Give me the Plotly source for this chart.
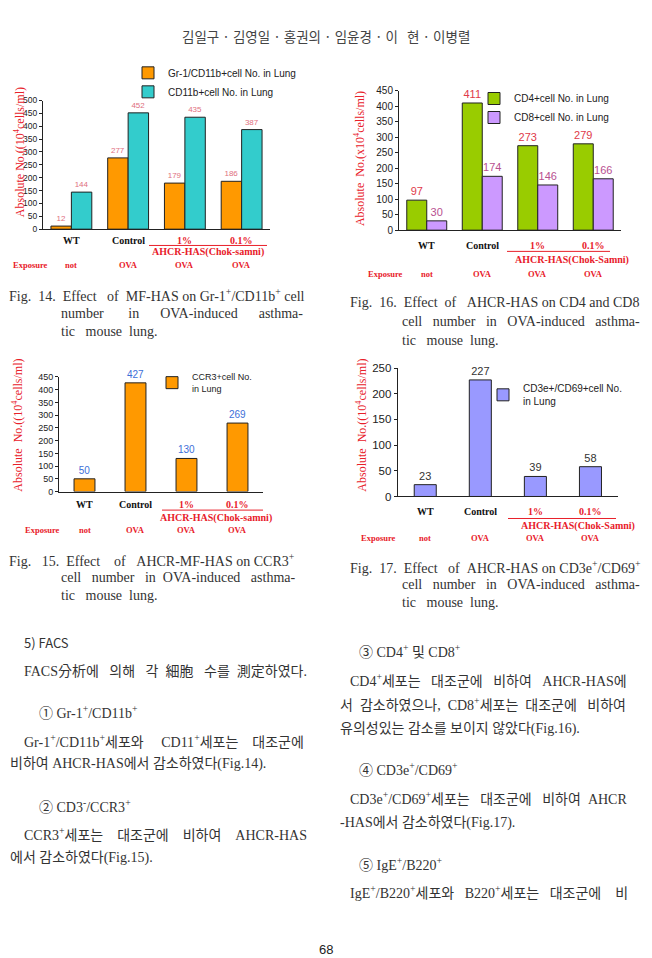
import plotly.graph_objects as go

W, H = 652, 958
def px(x): return x / W
def py(y): return 1 - y / H

# ---------------- data ----------------
categories = ["WT", "Control", "1%", "0.1%"]
exposure = ["not", "OVA", "OVA", "OVA"]

# Fig. 14
gr1_cd11b = [12, 277, 179, 186]
cd11b = [144, 452, 435, 387]
# Fig. 16
cd4 = [97, 411, 273, 279]
cd8 = [30, 174, 146, 166]
# Fig. 15
ccr3 = [50, 427, 130, 269]
# Fig. 17
cd3e_cd69 = [23, 227, 39, 58]

SERIF = "Liberation Serif, DejaVu Serif, serif"
SANS = "Liberation Sans, Arial, sans-serif"
KR = "Liberation Serif, Noto Sans CJK KR, serif"
RED = "#e8202a"
NB = "\u00a0"
def sp(n): return NB * n

fig = go.Figure()
line_style = dict(color="#222", width=1)

# Fig 14
fig.add_trace(go.Bar(x=categories, y=gr1_cd11b, name="Gr-1/CD11b+cell No. in Lung",
                     marker=dict(color="#ff9900", line=line_style), xaxis="x", yaxis="y",
                     text=gr1_cd11b, textposition="outside", cliponaxis=False, constraintext="none",
                     textfont=dict(size=8, color="#e07080", family=SANS), legend="legend"))
fig.add_trace(go.Bar(x=categories, y=cd11b, name="CD11b+cell No. in Lung",
                     marker=dict(color="#33cccc", line=line_style), xaxis="x", yaxis="y",
                     text=cd11b, textposition="outside", cliponaxis=False, constraintext="none",
                     textfont=dict(size=8, color="#e07080", family=SANS), legend="legend"))
# Fig 16
fig.add_trace(go.Bar(x=categories, y=cd4, name="CD4+cell No. in Lung",
                     marker=dict(color="#99cc00", line=line_style), xaxis="x2", yaxis="y2",
                     text=cd4, textposition="outside", cliponaxis=False, constraintext="none",
                     textfont=dict(size=11, color="#e03a48", family=SANS), legend="legend2"))
fig.add_trace(go.Bar(x=categories, y=cd8, name="CD8+cell No. in Lung",
                     marker=dict(color="#cc99ff", line=line_style), xaxis="x2", yaxis="y2",
                     text=cd8, textposition="outside", cliponaxis=False, constraintext="none",
                     textfont=dict(size=11, color="#b85090", family=SANS), legend="legend2"))
# Fig 15
fig.add_trace(go.Bar(x=categories, y=ccr3, name="CCR3+cell No.<br>in Lung",
                     marker=dict(color="#ff9900", line=line_style), xaxis="x3", yaxis="y3",
                     width=0.41, offset=-0.205,
                     text=ccr3, textposition="outside", cliponaxis=False, constraintext="none",
                     textfont=dict(size=10, color="#3d6fd8", family=SANS), legend="legend3"))
# Fig 17
fig.add_trace(go.Bar(x=categories, y=cd3e_cd69, name="CD3e+/CD69+cell No.<br>in Lung",
                     marker=dict(color="#9999ff", line=line_style), xaxis="x4", yaxis="y4",
                     width=0.4, offset=-0.2,
                     text=cd3e_cd69, textposition="outside", cliponaxis=False, constraintext="none",
                     textfont=dict(size=11, color="#333", family=SANS), legend="legend4"))

def xax(d0, d1, anchor):
    return dict(domain=[px(d0), px(d1)], anchor=anchor, type="category",
                showticklabels=False, showline=True, linecolor="#222", linewidth=1,
                ticks="", showgrid=False, zeroline=False)

def yax(top, bottom, anchor, rng, fs):
    return dict(domain=[py(bottom), py(top)], anchor=anchor, range=rng, dtick=50,
                showline=True, linecolor="#222", linewidth=1, ticks="outside", ticklen=3,
                tickcolor="#222", showgrid=False, zeroline=False,
                tickfont=dict(size=fs, color="#222", family=SANS))

layout = dict(
    width=W, height=H, margin=dict(l=0, r=0, t=0, b=0),
    paper_bgcolor="white", plot_bgcolor="white",
    barmode="group", bargap=0.28, bargroupgap=0,
    xaxis=xax(43, 270, "y"), yaxis=yax(95.7, 226, "x", [0, 500], 8.5),
    xaxis2=xax(399, 621, "y2"), yaxis2=yax(86, 227, "x2", [0, 450], 10),
    xaxis3=xax(59, 263, "y3"), yaxis3=yax(375.7, 491.7, "x3", [0, 450], 9),
    xaxis4=xax(397.7, 618, "y4"), yaxis4=yax(366.7, 496.7, "x4", [0, 250], 11.5),
)

def leg(x, y, fs):
    return dict(x=px(x), y=py(y), xanchor="left", yanchor="top", bgcolor="rgba(0,0,0,0)",
                font=dict(size=fs, family=SANS, color="#222"), itemwidth=30,
                tracegroupgap=0, traceorder="normal")

layout["legend"] = leg(128, 53, 10)
layout["legend2"] = leg(474, 79, 10)
layout["legend3"] = leg(152, 363, 9)
layout["legend4"] = leg(483, 374, 10)
layout["showlegend"] = True

ann = []
def A(text, x, y, size, color="#222", family=SERIF, xanchor="center", xref="paper", angle=0):
    ann.append(dict(text=text, x=(px(x) if xref == "paper" else x), y=py(y), xref=xref, yref="paper",
                    xanchor=xanchor, yanchor="middle", showarrow=False, textangle=angle,
                    font=dict(size=size, color=color, family=family)))

shapes = []
def L(x0, x1, y, color=RED):
    shapes.append(dict(type="line", xref="paper", yref="paper", x0=px(x0), x1=px(x1),
                       y0=py(y), y1=py(y), line=dict(color=color, width=1)))

def cat_block(xref, ylab, line_y, lx0, lx1, ahcr_x, ahcr_y, ahcr_text, exp_y, exp_x, fs):
    for i, c in enumerate(categories):
        col = "#111" if i < 2 else RED
        A(f"<b>{c}</b>", c, ylab, fs, col, SERIF, xref=xref)
        A(f"<b>{exposure[i]}</b>", c, exp_y, fs - 1.5, RED, SERIF, xref=xref)
    L(lx0, lx1, line_y)
    A(f"<b>{ahcr_text}</b>", ahcr_x, ahcr_y, fs, RED, SERIF)
    A("<b>Exposure</b>", exp_x, exp_y, fs - 1.5, RED, SERIF)

cat_block("x", 237, 242.5, 149, 267, 208, 249.5, "AHCR-HAS(Chok-samni)", 262, 30, 10)
cat_block("x2", 243, 248.5, 507, 610, 572, 257, "AHCR-HAS(Chok-Samni)", 271, 385, 10)
cat_block("x3", 505, 510.5, 162, 263, 216, 518.5, "AHCR-HAS(Chok-samni)", 531, 43, 10)
cat_block("x4", 512, 519, 508, 616, 578, 527, "AHCR-HAS(Chok-Samni)", 539, 378, 10)

# y-axis titles
A("Absolute No.((10<sup>4</sup>cells/ml)", 19, 148, 12, RED, SERIF, angle=-90)
A(f"Absolute{sp(2)}No.(x10<sup>4</sup>cells/ml)", 359, 155, 12, RED, SERIF, angle=-90)
A(f"Absolute{sp(2)}No.((10<sup>4</sup>cells/ml)", 18, 425, 12, RED, SERIF, angle=-90)
A(f"Absolute{sp(2)}No.((10<sup>4</sup>cells/ml)", 362, 425, 12, RED, SERIF, angle=-90)

# header
A(f"김일구 · 김영일 · 홍권의 · 임윤경 · 이{sp(3)}현 · 이병렬", 326, 30, 13.5, "#444",
  "Noto Sans CJK KR, sans-serif")

# captions
CAP = "#333"
def cap(lines, x1, x2, y0, gap):
    for i, t in enumerate(lines):
        A(t, x1 if i == 0 else x2, y0 + i * gap, 14, CAP, SERIF, xanchor="left")

cap([f"Fig.{sp(2)}14.{sp(2)}Effect{sp(3)}of{sp(2)}MF-HAS on Gr-1<sup>+</sup>/CD11b<sup>+</sup> cell",
     f"number{sp(7)}in{sp(6)}OVA-induced{sp(6)}asthma-",
     f"tic{sp(3)}mouse{sp(2)}lung."], 7, 59, 293, 18.5)
cap([f"Fig.{sp(3)}15.{sp(2)}Effect{sp(4)}of{sp(3)}AHCR-MF-HAS on CCR3<sup>+</sup>",
     f"cell{sp(3)}number{sp(3)}in{sp(2)}OVA-induced{sp(3)}asthma-",
     f"tic{sp(3)}mouse{sp(2)}lung."], 7, 59, 561, 18)
cap([f"Fig.{sp(2)}16.{sp(2)}Effect{sp(2)}of{sp(3)}AHCR-HAS on CD4 and CD8",
     f"cell{sp(3)}number{sp(3)}in{sp(3)}OVA-induced{sp(3)}asthma-",
     f"tic{sp(3)}mouse{sp(2)}lung."], 348, 400, 300, 19.5)
cap([f"Fig.{sp(2)}17.{sp(2)}Effect{sp(3)}of{sp(2)}AHCR-HAS on CD3e<sup>+</sup>/CD69<sup>+</sup>",
     f"cell{sp(3)}number{sp(3)}in{sp(3)}OVA-induced{sp(3)}asthma-",
     f"tic{sp(3)}mouse{sp(2)}lung."], 348, 400, 568, 18)

# body text
BODY = 14
TC = "#333"
def T(t, x, y, size=BODY, fam=KR):
    A(t, x, y, size, TC, fam, xanchor="left")

T("5) FACS", 22, 645, 13, "Noto Sans CJK KR, sans-serif")
T(f"FACS分析에{sp(3)}의해{sp(3)}각{sp(2)}細胞{sp(3)}수를{sp(2)}測定하였다.", 22, 674)
T("① Gr-1<sup>+</sup>/CD11b<sup>+</sup>", 37, 715)
T(f"Gr-1<sup>+</sup>/CD11b<sup>+</sup>세포와{sp(5)}CD11<sup>+</sup>세포는{sp(4)}대조군에", 22, 744)
T("비하여 AHCR-HAS에서 감소하였다(Fig.14).", 8, 768)
T("② CD3<sup>-</sup>/CCR3<sup>+</sup>", 37, 810)
T(f"CCR3<sup>+</sup>세포는{sp(4)}대조군에{sp(4)}비하여{sp(4)}AHCR-HAS", 22, 838)
T("에서 감소하였다(Fig.15).", 8, 863)

T("③ CD4<sup>+</sup> 및 CD8<sup>+</sup>", 357, 653)
T(f"CD4<sup>+</sup>세포는{sp(3)}대조군에{sp(3)}비하여{sp(3)}AHCR-HAS에", 348, 683)
T(f"서{sp(2)}감소하였으나,{sp(2)}CD8<sup>+</sup>세포는{sp(2)}대조군에{sp(3)}비하여", 338, 707)
T("유의성있는 감소를 보이지 않았다(Fig.16).", 338, 732)
T("④ CD3e<sup>+</sup>/CD69<sup>+</sup>", 357, 773)
T(f"CD3e<sup>+</sup>/CD69<sup>+</sup>세포는{sp(3)}대조군에{sp(3)}비하여{sp(2)}AHCR", 348, 802)
T("-HAS에서 감소하였다(Fig.17).", 338, 827)
T("⑤ IgE<sup>+</sup>/B220<sup>+</sup>", 357, 869)
T(f"IgE<sup>+</sup>/B220<sup>+</sup>세포와{sp(3)}B220<sup>+</sup>세포는{sp(3)}대조군에{sp(4)}비", 348, 897)

A("68", 326, 955, 13, "#222", SANS)

layout["annotations"] = ann
layout["shapes"] = shapes
fig.update_layout(**layout)
fig.write_html("out.html")
